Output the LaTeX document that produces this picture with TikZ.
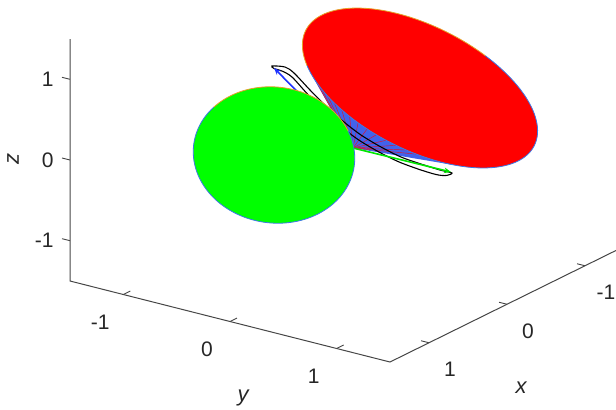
\documentclass[tikz,border=0pt]{standalone}
\usepackage{fontspec}
\setmainfont{Liberation Sans}
\usetikzlibrary{arrows.meta}
\definecolor{fanblue}{RGB}{66,98,235}
\definecolor{arrowblue}{RGB}{30,50,255}
\definecolor{pureRed}{RGB}{255,0,0}
\definecolor{pureGreen}{RGB}{0,255,0}
\definecolor{lineGreen}{RGB}{0,230,0}
\definecolor{edgeOrange}{RGB}{230,160,40}
\definecolor{edgeBlue}{RGB}{60,120,230}
\definecolor{axisgray}{RGB}{70,70,70}
\begin{document}
\begin{tikzpicture}[x=0.5pt,y=-0.5pt,
  axisline/.style={draw=axisgray, line width=0.5pt},
  tickmark/.style={draw=axisgray, line width=0.45pt},
  ticklabel/.style={font=\fontsize{10.5}{12}\selectfont, inner sep=0pt, text=black!85},
  axlabel/.style={font=\fontsize{11}{13}\selectfont\itshape, inner sep=0pt, text=black!85},
  meshline/.style={draw=pureRed!85!fanblue, line width=0.22pt},
  loopline/.style={draw=black, line width=0.55pt},
  vecarrow/.style={line width=0.8pt, -{Stealth[length=3.5pt, width=2.8pt]}}]
\useasboundingbox (0,0) rectangle (616,409);

% ---------- axes ----------
\coordinate (ztop) at (70,39);
\coordinate (orig) at (70,281);
\coordinate (corner) at (390,362);
\coordinate (xend) at (624,246.5);
\draw[axisline] (ztop) -- (orig) -- (corner) -- (xend);

% z ticks
\foreach \n/\yy/\lab in {a/79.3/1, b/160/0, c/240.7/-1}{
  \coordinate (zt\n) at (70,\yy);
  \draw[tickmark] (zt\n) -- ++(-8,-2);
  \node[ticklabel, anchor=east] (zl\n) at (54,\yy) {\lab};
}
% y ticks
\foreach \n/\xx/\yy/\lab in {a/123.3/294.5/-1, b/230/321.5/0, c/336.7/348.5/1}{
  \coordinate (yt\n) at (\xx,\yy);
  \draw[tickmark] (yt\n) -- ++(7,-3.5);
  \node[ticklabel] (yl\n) at (\xx-23,\yy+28) {\lab};
}
% x ticks
\foreach \n/\xx/\yy/\lab in {a/429/342.75/1, b/507/304.25/0, c/585/265.75/-1}{
  \coordinate (xt\n) at (\xx,\yy);
  \draw[tickmark] (xt\n) -- ++(-8,-2);
  \node[ticklabel] (xl\n) at (\xx+21,\yy+27) {\lab};
}
\node[axlabel, rotate=90] (zlabel) at (13,159) {z};
\node[axlabel] (ylabel) at (243,398) {y};
\node[axlabel] (xlabel) at (521,388) {x};

% ---------- cone / fan ----------
\coordinate (apex) at (353,148);
\fill[fanblue] (apex) -- plot[domain=58:144, samples=50]
  ({420 + 114.25*cos(\x) - 27.96*sin(\x)}, {88 + 57.72*cos(\x) + 55.34*sin(\x)}) -- cycle;
\foreach \t in {78,83,...,140}{
  \draw[meshline] (apex) -- ({420 + 114.25*cos(\t) - 27.96*sin(\t)}, {88 + 57.72*cos(\t) + 55.34*sin(\t)});
}

% ---------- red disk ----------
\fill[pureRed] plot[domain=0:360, samples=120]
  ({420 + 114.25*cos(\x) - 27.96*sin(\x)}, {88 + 57.72*cos(\x) + 55.34*sin(\x)}) -- cycle;
\draw[edgeOrange, line width=0.4pt] plot[domain=150:290, samples=60]
  ({420 + 114.25*cos(\x) - 27.96*sin(\x)}, {88 + 57.72*cos(\x) + 55.34*sin(\x)});
\draw[edgeBlue, line width=0.4pt] plot[domain=-70:150, samples=80]
  ({420 + 114.25*cos(\x) - 27.96*sin(\x)}, {88 + 57.72*cos(\x) + 55.34*sin(\x)});

% ---------- black loop ----------
\draw[loopline] plot[smooth cycle, tension=0.5] coordinates {
  (272,66) (285,67) (294,73) (310,90) (327,107) (344,122) (361,135) (381,147)
  (401,157) (421,164) (440,170) (452,173) (446,175.5) (436,174.5) (418,169)
  (398,161.5) (378,151.5) (358,139.5) (341,126.5) (324,111) (307,93.5) (292,77)
  (282,71) (274,68.5)};

% ---------- vectors ----------
\coordinate (gtip) at (451,172);
\coordinate (btip) at (274,68);
\draw[vecarrow, lineGreen] (apex) -- (gtip);
\draw[vecarrow, arrowblue] (apex) -- (btip);

% ---------- green disk ----------
\fill[pureGreen] plot[domain=0:360, samples=120]
  ({274 + 80.2*cos(\x) - 9.46*sin(\x)}, {155 + 11.27*cos(\x) + 67.3*sin(\x)}) -- cycle;
\draw[edgeBlue, line width=0.4pt] plot[domain=-30:215, samples=90]
  ({274 + 80.2*cos(\x) - 9.46*sin(\x)}, {155 + 11.27*cos(\x) + 67.3*sin(\x)});
\draw[edgeOrange, line width=0.4pt] plot[domain=215:330, samples=50]
  ({274 + 80.2*cos(\x) - 9.46*sin(\x)}, {155 + 11.27*cos(\x) + 67.3*sin(\x)});
\end{tikzpicture}
\end{document}
